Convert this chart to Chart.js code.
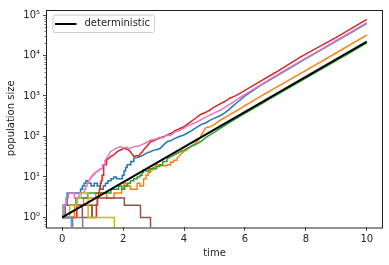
<!DOCTYPE html>
<html>
<head>
<meta charset="utf-8">
<script src="https://cdn.jsdelivr.net/npm/chart.js@4/dist/chart.umd.min.js"></script>
<style>
  html, body { margin: 0; padding: 0; background: #fff; }
</style>
</head>
<body>
<canvas id="myChart" width="389" height="265"></canvas>
<script>
// axis ticks
const xTicks = [0, 2, 4, 6, 8, 10]
const yTicks = [1, 10, 100, 1000, 10000, 100000]
const yTickLabels = ['10⁰', '10¹', '10²', '10³', '10⁴', '10⁵']
const yMinor = [2, 3, 4, 5, 6, 7, 8, 9]

// deterministic growth
const detT = [0, 10]
const detN = [1, 22026]

// stochastic runs (time, population size)
const blueT = [0, 0.05, 0.16, 0.6, 0.66, 0.72, 0.78, 0.85, 0.95, 1.05, 1.15, 1.25, 1.35, 1.42, 1.5, 1.6, 1.69, 1.78, 1.9, 1.97, 2.03, 2.08, 2.13, 2.25, 2.35, 2.45, 2.57, 2.7, 2.8, 2.9, 3.0, 3.1, 3.22, 3.33, 3.44, 3.55, 3.7, 3.85, 3.99, 4.1, 4.25, 4.4, 4.54, 4.7, 4.85, 5.0, 5.2, 5.35, 5.5, 5.75, 6, 6.5, 7, 7.5, 8, 8.5, 9, 9.5, 10]
const blueN = [1, 2, 4, 5, 6, 7, 8, 7, 6, 7, 6, 5, 6, 7, 8, 9, 10, 9, 9, 11, 14, 17, 20, 24, 29, 30, 32, 36, 40, 42, 46, 47, 51, 62, 74, 78, 90, 100, 109, 120, 140, 165, 193, 215, 250, 285, 330, 390, 480, 700, 1000, 1800, 3000, 5000, 8400, 13800, 22800, 37500, 62000]

const orangeT = [0, 0.4, 0.7, 1.1, 1.45, 1.7, 1.95, 2.0, 2.03, 2.1, 2.24, 2.46, 2.55, 2.67, 2.75, 2.82, 2.9, 2.97, 3.05, 3.11, 3.25, 3.44, 3.55, 3.65, 3.77, 3.88, 3.99, 4.1, 4.21, 4.3, 4.4, 4.47, 4.54, 4.6, 4.65, 4.7, 4.76, 4.87, 5.0, 5.1, 5.2, 5.35, 5.5, 5.75, 6, 6.5, 7, 7.5, 7.83, 8.5, 9, 9.5, 10]
const orangeN = [1, 2, 3, 4, 3, 4, 5, 6, 7, 6, 5, 7, 6, 9, 11, 13, 15, 17, 19, 20, 19, 20, 23, 26, 29, 36, 42, 48, 56, 62, 72, 82, 98, 120, 140, 160, 170, 175, 200, 228, 255, 295, 345, 440, 580, 960, 1580, 2600, 3600, 7100, 11700, 19300, 32000]

const greenT = [0, 0.1, 0.45, 0.83, 1.6, 1.85, 1.95, 2.05, 2.15, 2.24, 2.35, 2.46, 2.55, 2.62, 2.67, 2.75, 2.85, 3.0, 3.1, 3.2, 3.3, 3.44, 3.55, 3.65, 3.77, 3.9, 4.0, 4.1, 4.2, 4.3, 4.42, 4.54, 4.7, 4.85, 5.0, 5.2, 5.4, 5.6, 5.8, 6, 6.5, 7, 7.5, 8, 8.5, 9, 9.5, 10]
const greenN = [1, 2, 3, 4, 5, 6, 5, 6, 7, 8, 9, 10, 11, 13, 15, 14, 16, 16, 18, 20, 24, 28, 31, 34, 38, 43, 46, 51, 55, 60, 66, 74, 92, 110, 128, 160, 200, 245, 305, 375, 610, 1020, 1680, 2780, 4550, 7500, 12400, 20500]

const redT = [0, 0.48, 0.98, 1.12, 1.16, 1.19, 1.22, 1.25, 1.28, 1.31, 1.34, 1.37, 1.45, 1.55, 1.62, 1.69, 1.77, 1.85, 1.93, 2.02, 2.1, 2.15, 2.24, 2.3, 2.35, 2.45, 2.52, 2.57, 2.63, 2.7, 2.8, 2.9, 3.0, 3.1, 3.18, 3.25, 3.35, 3.44, 3.55, 3.62, 3.7, 3.8, 3.9, 3.99, 4.1, 4.25, 4.4, 4.54, 4.7, 4.85, 5.0, 5.2, 5.35, 5.5, 5.7, 5.86, 6.5, 7, 7.5, 7.83, 8.5, 9, 9.5, 10]
const redN = [1, 2, 1, 2, 3, 4, 5, 7, 8, 11, 15, 20, 26, 30, 33, 35, 40, 44, 47, 51, 49, 48, 42, 36, 32, 34, 33, 38, 42, 50, 60, 74, 78, 85, 90, 95, 100, 109, 118, 125, 140, 150, 162, 174, 200, 240, 290, 350, 390, 450, 540, 650, 740, 880, 1020, 1200, 2300, 3800, 6500, 9300, 17500, 28000, 47000, 78000]

const purpleT = [0, 0.34]
const purpleN = [1, 0]

const brownT = [0, 0.03, 0.66, 0.98, 1.15, 2.04, 2.57, 2.9]
const brownN = [1, 2, 1, 2, 3, 2, 1, 0]

const pinkT = [0, 0.05, 0.12, 0.2, 0.4, 0.55, 0.72, 0.77, 0.82, 0.86, 0.9, 0.94, 0.98, 1.03, 1.08, 1.14, 1.2, 1.25, 1.32, 1.4, 1.47, 1.58, 1.75, 1.9, 2.0, 2.1, 2.2, 2.35, 2.5, 2.6, 2.75, 2.9, 3.05, 3.2, 3.3, 3.44, 3.55, 3.7, 3.85, 3.99, 4.1, 4.25, 4.4, 4.54, 4.7, 4.9, 5.05, 5.2, 5.4, 5.6, 5.8, 6, 6.5, 7, 7.5, 8, 8.5, 9, 9.5, 10]
const pinkN = [1, 2, 3, 4, 3, 4, 5, 6, 7, 8, 9, 10, 11, 12, 13, 14, 15, 16, 20, 25, 30, 42, 50, 56, 52, 54, 50, 56, 58, 62, 70, 82, 85, 95, 92, 109, 105, 130, 140, 160, 180, 200, 225, 255, 295, 350, 400, 450, 560, 700, 880, 1090, 1860, 3130, 5240, 8650, 14250, 23500, 38700, 65000]

const grayT = [0, 0.67]
const grayN = [1, 0]

const oliveT = [0, 0.25, 0.5, 0.62, 0.85, 1.71]
const oliveN = [1, 2, 3, 4, 1, 0]

const cyanT = [0, 0.3]
const cyanN = [1, 0]

const runs = [
    [blueT, blueN, '#1f77b4'],
    [orangeT, orangeN, '#ff7f0e'],
    [greenT, greenN, '#2ca02c'],
    [redT, redN, '#d62728'],
    [purpleT, purpleN, '#9467bd'],
    [brownT, brownN, '#8c564b'],
    [pinkT, pinkN, '#e377c2'],
    [grayT, grayN, '#7f7f7f'],
    [oliveT, oliveN, '#bcbd22'],
    [cyanT, cyanN, '#17becf']
]

// small counts are drawn as steps, large counts as a plain line
function toPoints(T, N) {
    let pts = []
    for (let i = 0; i < T.length; i++) {
        if (i > 0 && N[i] < 30 && N[i - 1] < 30) pts.push({x: T[i], y: N[i - 1]})
        pts.push({x: T[i], y: N[i]})
    }
    return pts
}

let datasets = [{
    label: 'deterministic',
    data: toPoints(detT, detN),
    borderColor: '#000',
    borderWidth: 2,
    order: 0
}]
runs.forEach((r, i) => {
    datasets.push({
        label: '',
        data: toPoints(r[0], r[1]),
        borderColor: r[2],
        borderWidth: 1.5,
        order: 10 - i
    })
})

const font = {family: 'DejaVu Sans', size: 10}
const ink = '#222'

const extras = {
    id: 'extras',
    afterDraw(chart) {
        const ctx = chart.ctx
        const a = chart.chartArea
        const ys = chart.scales.y
        ctx.save()
        // frame
        ctx.strokeStyle = ink
        ctx.lineWidth = 1
        ctx.strokeRect(Math.round(a.left) - 0.5, Math.round(a.top) + 0.5, Math.round(a.right - a.left) + 1, Math.round(a.bottom - a.top) - 0.5)
        // minor log ticks
        ctx.lineWidth = 0.6
        for (let e = -1; e < 6; e++) {
            yMinor.forEach(m => {
                const v = m * Math.pow(10, e)
                if (v < ys.min || v > ys.max) return
                const py = Math.round(ys.getPixelForValue(v)) + 0.5
                ctx.beginPath()
                ctx.moveTo(a.left - 2.5, py)
                ctx.lineTo(a.left, py)
                ctx.stroke()
            })
        }
        // legend
        const lx = a.left + 5.5, ly = a.top + 5, lw = 101.5, lh = 17.5
        ctx.fillStyle = 'rgba(255,255,255,0.8)'
        ctx.strokeStyle = '#cccccc'
        ctx.lineWidth = 1
        ctx.beginPath()
        ctx.roundRect(lx + 0.5, ly + 0.5, lw, lh, 2)
        ctx.fill()
        ctx.stroke()
        const ds = chart.data.datasets[0]
        ctx.strokeStyle = ds.borderColor
        ctx.lineWidth = 2
        ctx.beginPath()
        ctx.moveTo(lx + 2.5, ly + 9.5)
        ctx.lineTo(lx + 24, ly + 9.5)
        ctx.stroke()
        ctx.fillStyle = ink
        ctx.font = '10px "DejaVu Sans"'
        ctx.textBaseline = 'middle'
        ctx.fillText(ds.label, lx + 32, ly + 9)
        ctx.restore()
    }
}

new Chart('myChart', {
    type: 'line',
    data: {datasets: datasets},
    plugins: [extras],
    options: {
        responsive: false,
        animation: false,
        parsing: false,
        layout: {padding: {top: 9.5, right: 7, left: 0, bottom: 0}},
        elements: {
            point: {radius: 0},
            line: {tension: 0, borderCapStyle: 'butt'}
        },
        plugins: {
            legend: {display: false},
            tooltip: {enabled: false}
        },
        scales: {
            x: {
                type: 'linear',
                min: -0.5,
                max: 10.5,
                afterBuildTicks: s => { s.ticks = xTicks.map(v => ({value: v})) },
                afterFit: s => { s.height = 38 },
                ticks: {font: font, color: ink, padding: 2, maxRotation: 0, autoSkip: false},
                grid: {drawOnChartArea: false, tickLength: 4, color: ink, tickWidth: 0.8},
                border: {display: false},
                title: {display: true, text: 'time', font: font, color: ink, padding: {top: 0, bottom: 6}}
            },
            y: {
                type: 'logarithmic',
                min: 0.58,
                max: 137000,
                afterBuildTicks: s => { s.ticks = yTicks.map(v => ({value: v})) },
                afterFit: s => { s.width = 47 },
                ticks: {
                    font: font, color: ink, padding: 3, autoSkip: false,
                    callback: v => { const i = yTicks.indexOf(v); return i >= 0 ? yTickLabels[i] : '' }
                },
                grid: {drawOnChartArea: false, tickLength: 4, color: ink, tickWidth: 0.8},
                border: {display: false},
                title: {display: true, text: 'population size', font: font, color: ink, padding: {top: 5, bottom: 0}}
            }
        }
    }
})
</script>
</body>
</html>
